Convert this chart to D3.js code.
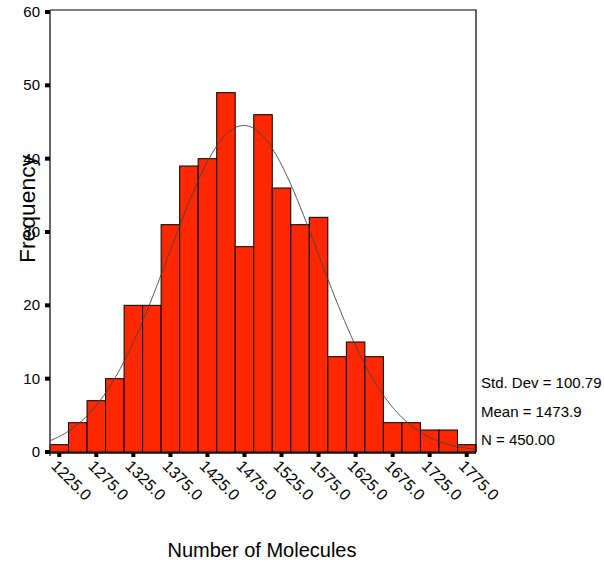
<!DOCTYPE html>
<html>
<head>
<meta charset="utf-8">
<script src="https://cdn.jsdelivr.net/npm/d3@7"></script>
<style>
  body { margin: 0; background: #fff; }
  text { font-family: "Liberation Sans", Arial, sans-serif; fill: #000; }
</style>
</head>
<body>
<svg id="canvas" width="604" height="562"></svg>
<script>
// bin centres (width 25) and counts
const binCenters = [1225, 1250, 1275, 1300, 1325, 1350, 1375, 1400, 1425, 1450, 1475, 1500,
  1525, 1550, 1575, 1600, 1625, 1650, 1675, 1700, 1725, 1750, 1775];
const counts = [1, 4, 7, 10, 20, 20, 31, 39, 40, 49, 28, 46, 36, 31, 32, 13, 15, 13, 4, 4, 3, 3, 1];
const xTickLabels = ["1225.0", "1275.0", "1325.0", "1375.0", "1425.0", "1475.0", "1525.0",
  "1575.0", "1625.0", "1675.0", "1725.0", "1775.0"];
const yTicks = [0, 10, 20, 30, 40, 50, 60];
const stats = { sd: 100.79, mean: 1473.9, n: 450 };
const statLines = ["Std. Dev = 100.79", "Mean = 1473.9", "N = 450.00"];
const binWidth = 25;

const svg = d3.select("svg#canvas");
const plotL = 50, plotR = 476, plotT = 10, plotB = 452;

const x = d3.scaleLinear()
  .domain([binCenters[0] - binWidth / 2, binCenters[binCenters.length - 1] + binWidth / 2])
  .range([plotL, plotR]);
const y = d3.scaleLinear().domain([0, 60]).range([plotB, plotT + 2]);

// bars
svg.append("g")
  .selectAll("rect")
  .data(binCenters)
  .enter()
  .append("rect")
  .attr("x", (d) => x(d - binWidth / 2))
  .attr("width", (d) => x(d + binWidth / 2) - x(d - binWidth / 2))
  .attr("y", (d, i) => y(counts[i]))
  .attr("height", (d, i) => y(0) - y(counts[i]))
  .attr("fill", "#ff2800")
  .attr("stroke", "#000")
  .attr("stroke-width", 1);

// fitted normal curve from the reported stats
const curvePts = d3.range(x.domain()[0], x.domain()[1] + 0.1, 2.5).map((v) => {
  const z = (v - stats.mean) / stats.sd;
  return [v, (stats.n * binWidth) / (stats.sd * Math.sqrt(2 * Math.PI)) * Math.exp(-0.5 * z * z)];
});
svg.append("path")
  .datum(curvePts)
  .attr("fill", "none")
  .attr("stroke", "#444")
  .attr("stroke-width", 0.9)
  .attr("d", d3.line().x((d) => x(d[0])).y((d) => y(d[1])));

// frame
svg.append("path")
  .attr("d", `M${plotL},${plotT}H${plotR}V${plotB}`)
  .attr("fill", "none")
  .attr("stroke", "#000")
  .attr("stroke-width", 1.2);
svg.append("line")
  .attr("x1", plotL).attr("x2", plotL).attr("y1", plotT).attr("y2", plotB + 4)
  .attr("stroke", "#333").attr("stroke-width", 1.5);
svg.append("line")
  .attr("x1", plotL - 4).attr("x2", plotR).attr("y1", plotB + 1).attr("y2", plotB + 1)
  .attr("stroke", "#000").attr("stroke-width", 1.5);

// y axis
const yAxis = svg.append("g");
yAxis.selectAll("rect")
  .data(yTicks)
  .enter()
  .append("rect")
  .attr("x", plotL - 5).attr("y", (d) => y(d) - 2)
  .attr("width", 5).attr("height", 4)
  .attr("fill", "#000");
yAxis.selectAll("text")
  .data(yTicks)
  .enter()
  .append("text")
  .attr("x", plotL - 10).attr("y", (d) => y(d) + 5)
  .attr("text-anchor", "end")
  .attr("font-size", 15)
  .text((d) => d);

// x axis
const xTickVals = xTickLabels.map(Number);
const xAxis = svg.append("g");
xAxis.selectAll("rect")
  .data(xTickVals)
  .enter()
  .append("rect")
  .attr("x", (d) => x(d) - 2).attr("y", plotB + 1)
  .attr("width", 4).attr("height", 4)
  .attr("fill", "#000");
xAxis.selectAll("text")
  .data(xTickLabels)
  .enter()
  .append("text")
  .attr("transform", (d) => `translate(${x(+d) - 9},${plotB + 15}) rotate(45)`)
  .attr("font-size", 16)
  .text((d) => d);

// titles
svg.append("text")
  .attr("transform", "translate(35,209) rotate(-90)")
  .attr("text-anchor", "middle")
  .attr("font-size", 22)
  .attr("textLength", 108)
  .attr("lengthAdjust", "spacingAndGlyphs")
  .text("Frequency");
svg.append("text")
  .attr("x", 262).attr("y", 557)
  .attr("text-anchor", "middle")
  .attr("font-size", 20)
  .text("Number of Molecules");

// stats box
svg.append("g")
  .selectAll("text")
  .data(statLines)
  .enter()
  .append("text")
  .attr("x", plotR + 5)
  .attr("y", (d, i) => 388 + i * 28.5)
  .attr("font-size", 15)
  .text((d) => d);
</script>
</body>
</html>
